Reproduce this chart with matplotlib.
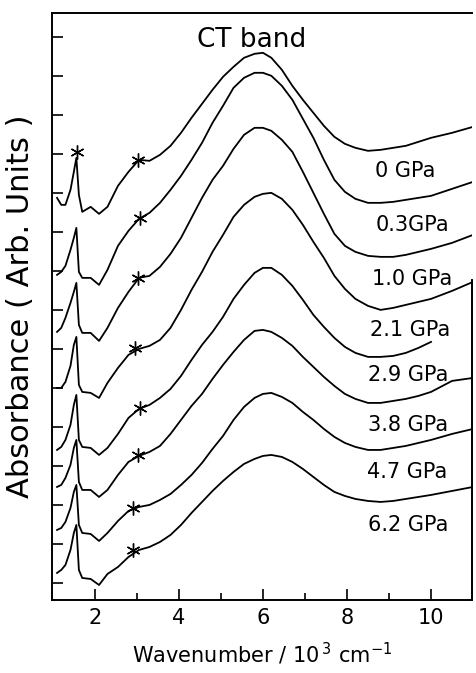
import numpy as np
import matplotlib.pyplot as plt

plt.rcParams['font.family'] = ['DejaVu Sans']

# wavenumber grid (10^3 cm^-1) shared by all traces
wavenumber = [1.1, 1.2, 1.3, 1.42, 1.5, 1.56, 1.62, 1.7, 1.9, 2.1, 2.3, 2.55, 2.8, 3.05,
              3.3, 3.55, 3.8, 4.05, 4.3, 4.55, 4.8, 5.05, 5.3, 5.55, 5.8, 6.0, 6.2, 6.45,
              6.7, 6.95, 7.2, 7.45, 7.7, 7.95, 8.2, 8.5, 8.8, 9.1, 9.4, 9.7, 10.0, 10.5, 11.0]

# absorbance (arb. units, already offset)
abs_0 = [4.02, 3.95, 3.95, 4.10, 4.28, 4.42, 4.05, 3.88, 3.93, 3.86, 3.93, 4.14, 4.28, 4.40,
         4.39, 4.45, 4.54, 4.67, 4.82, 4.96, 5.10, 5.23, 5.33, 5.42, 5.46, 5.47, 5.42, 5.30,
         5.14, 5.00, 4.87, 4.74, 4.63, 4.56, 4.52, 4.49, 4.50, 4.52, 4.54, 4.58, 4.62, 4.67, 4.73]
abs_03 = [3.25, 3.28, 3.34, 3.50, 3.62, 3.72, 3.28, 3.22, 3.22, 3.15, 3.30, 3.54, 3.69, 3.81,
          3.87, 3.97, 4.10, 4.24, 4.40, 4.57, 4.77, 4.94, 5.12, 5.22, 5.27, 5.27, 5.24, 5.14,
          5.00, 4.81, 4.62, 4.40, 4.20, 4.08, 4.01, 3.97, 3.97, 3.98, 4.00, 4.02, 4.04, 4.11, 4.18]
abs_10 = [2.68, 2.72, 2.82, 2.97, 3.08, 3.17, 2.75, 2.67, 2.67, 2.59, 2.72, 2.92, 3.08, 3.22,
          3.24, 3.33, 3.46, 3.62, 3.82, 4.02, 4.20, 4.34, 4.51, 4.65, 4.72, 4.72, 4.69, 4.60,
          4.48, 4.28, 4.07, 3.86, 3.66, 3.54, 3.48, 3.44, 3.43, 3.43, 3.45, 3.48, 3.51, 3.57, 3.65]
abs_21 = [2.12, 2.12, 2.18, 2.34, 2.55, 2.63, 2.15, 2.08, 2.07, 2.02, 2.17, 2.32, 2.45, 2.51,
          2.54, 2.60, 2.72, 2.90, 3.10, 3.28, 3.48, 3.65, 3.83, 3.95, 4.03, 4.06, 4.07, 4.01,
          3.90, 3.75, 3.58, 3.42, 3.24, 3.11, 3.01, 2.94, 2.90, 2.92, 2.95, 2.98, 3.01, 3.09, 3.18]
abs_29 = [1.50, 1.53, 1.60, 1.75, 1.95, 2.05, 1.60, 1.53, 1.52, 1.45, 1.52, 1.66, 1.82, 1.91,
          1.95, 2.02, 2.11, 2.24, 2.40, 2.55, 2.68, 2.83, 3.01, 3.15, 3.27, 3.32, 3.32, 3.25,
          3.14, 3.00, 2.85, 2.73, 2.62, 2.53, 2.47, 2.43, 2.43, 2.44, 2.47, 2.52, 2.58]
abs_38 = [1.13, 1.15, 1.22, 1.35, 1.52, 1.60, 1.18, 1.10, 1.10, 1.03, 1.10, 1.25, 1.38, 1.44,
          1.48, 1.54, 1.66, 1.80, 1.94, 2.06, 2.21, 2.35, 2.48, 2.60, 2.69, 2.70, 2.68, 2.62,
          2.54, 2.43, 2.33, 2.23, 2.14, 2.06, 2.01, 1.97, 1.97, 1.99, 2.01, 2.04, 2.08, 2.19, 2.22]
abs_47 = [0.70, 0.72, 0.78, 0.92, 1.08, 1.15, 0.75, 0.67, 0.66, 0.59, 0.67, 0.79, 0.89, 0.93,
          0.95, 1.00, 1.06, 1.15, 1.25, 1.37, 1.51, 1.64, 1.80, 1.93, 2.02, 2.06, 2.07, 2.03,
          1.97, 1.88, 1.80, 1.71, 1.63, 1.57, 1.53, 1.50, 1.50, 1.52, 1.54, 1.57, 1.60, 1.66, 1.71]
abs_62 = [0.27, 0.30, 0.35, 0.50, 0.67, 0.75, 0.30, 0.22, 0.21, 0.15, 0.26, 0.33, 0.43, 0.50,
          0.53, 0.58, 0.65, 0.75, 0.87, 0.98, 1.09, 1.19, 1.28, 1.36, 1.41, 1.44, 1.45, 1.43,
          1.38, 1.31, 1.23, 1.15, 1.08, 1.04, 1.01, 0.99, 0.98, 0.99, 1.01, 1.03, 1.05, 1.09, 1.13]

spectra = [abs_0, abs_03, abs_10, abs_21, abs_29, abs_38, abs_47, abs_62]
pressure_labels = ['0 GPa', '0.3GPa', '1.0 GPa', '2.1 GPa', '2.9 GPa', '3.8 GPa', '4.7 GPa', '6.2 GPa']
label_x = [8.67, 8.67, 8.60, 8.55, 8.50, 8.50, 8.48, 8.50]
label_y = [4.31, 3.77, 3.23, 2.72, 2.27, 1.77, 1.30, 0.77]

# asterisks marking artefact bands
star_x = [1.57, 3.02, 3.07, 3.02, 2.95, 3.07, 3.02, 2.90, 2.90]
star_y = [4.48, 4.40, 3.82, 3.22, 2.52, 1.92, 1.45, 0.92, 0.50]

fig = plt.figure(figsize=(4.77, 6.73), dpi=100)
ax = fig.add_axes([0.109, 0.1085, 0.881, 0.8725])

for vals in spectra:
    ax.plot(wavenumber[:len(vals)], vals, color='black', lw=1.3, solid_joinstyle='round')

ax.plot(star_x, star_y, ls='none', marker=(6, 2, 0), ms=10, mew=1.0, color='black')

for lab, lx, ly in zip(pressure_labels, label_x, label_y):
    ax.text(lx, ly, lab, fontsize=15, va='center_baseline', ha='left')

ax.text(5.74, 5.63, 'CT band', fontsize=19, ha='center', va='center_baseline')

ax.set_xlim(0.98, 10.98)
ax.set_ylim(0, 5.87)
ax.set_xticks([2, 4, 6, 8, 10])
ax.set_xticks([3, 5, 7, 9], minor=True)
ax.set_yticks(0.17 + 0.39 * np.arange(15))
ax.tick_params(axis='x', which='major', direction='in', length=8, width=1.2, labelsize=15, pad=6)
ax.tick_params(axis='x', which='minor', direction='in', length=5, width=1.2)
ax.tick_params(axis='y', direction='in', length=8, width=1.2, labelleft=False)

for side in ['left', 'bottom', 'top', 'right']:
    ax.spines[side].set_linewidth(1.4)
ax.spines['right'].set_bounds(0, 3.2)

ax.set_xlabel('Wavenumber / 10$^{\\,3}$ cm$^{-1}$', fontsize=15, labelpad=9)
ax.set_ylabel('Absorbance ( Arb. Units )', fontsize=22, labelpad=12)

fig.savefig('out.png', dpi=100)
